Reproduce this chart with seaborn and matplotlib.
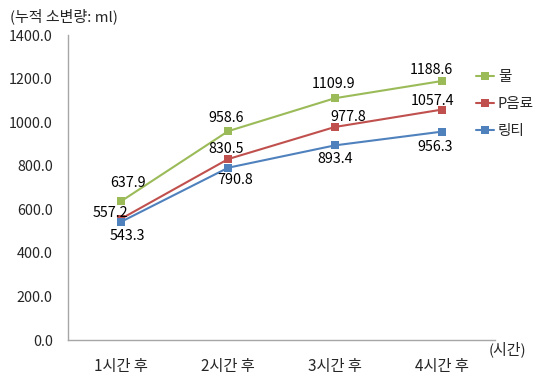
import numpy as np
import pandas as pd
import matplotlib.pyplot as plt
import seaborn as sns

times = ["1시간 후", "2시간 후", "3시간 후", "4시간 후"]
water = [637.9, 958.6, 1109.9, 1188.6]
p_drink = [557.2, 830.5, 977.8, 1057.4]
ringti = [543.3, 790.8, 893.4, 956.3]
series_names = ["물", "P음료", "링티"]
colors = ["#9BBB59", "#C0504D", "#4F81BD"]

df = pd.DataFrame({
    "pos": list(range(len(times))) * 3,
    "value": water + p_drink + ringti,
    "series": [s for s in series_names for _ in times],
})

sns.set_style("white")
plt.rcParams["font.family"] = ["Noto Sans CJK KR", "DejaVu Sans"]

fig = plt.figure(figsize=(5.42, 3.78), dpi=100)
ax = fig.add_axes([0.1255, 0.1005, 0.7878, 0.8069])

sns.lineplot(
    data=df, x="pos", y="value", hue="series",
    palette=colors, marker="s", markersize=5.5, markeredgewidth=0,
    linewidth=1.5, dashes=False, ax=ax
)

# data labels, offsets in pixels
offsets = {
    "물": [(7, 18), (-2, 13), (-1, 14), (-10, 11)],
    "P음료": [(-11, 6), (-2, 10), (13, 10), (-9, 9)],
    "링티": [(6, -14), (7, -12), (0, -14), (-7, -15)],
}
for name, vals in zip(series_names, [water, p_drink, ringti]):
    for i, v in enumerate(vals):
        ax.annotate(f"{v:.1f}", (i, v), xytext=offsets[name][i],
                    textcoords="offset pixels", ha="center", va="center",
                    fontsize=10.3, color="black")

ax.set_xlim(-0.5, 3.5)
ax.set_ylim(0, 1400)
ax.set_yticks(np.arange(0, 1401, 200))
ax.set_yticklabels([f"{t:.1f}" for t in np.arange(0, 1401, 200)], fontsize=10.3)
ax.set_xticks(range(len(times)))
ax.set_xticklabels(times, fontsize=11)
ax.set_xticks(np.arange(-0.5, 3.6, 1), minor=True)
ax.tick_params(axis="x", which="major", length=0, pad=13)
ax.tick_params(axis="x", which="minor", length=4, color="#A6A6A6", direction="out")
ax.tick_params(axis="y", length=5, color="#A6A6A6", direction="out", pad=6)
ax.set_xlabel("")
ax.set_ylabel("")

for side in ["top", "right"]:
    ax.spines[side].set_visible(False)
for side in ["left", "bottom"]:
    ax.spines[side].set_color("#A6A6A6")
    ax.spines[side].set_linewidth(1)

fig.text(10 / 542, 1 - 16 / 378, "(누적 소변량: ml)", fontsize=10.8, ha="left", va="center")
fig.text(489 / 542, 1 - 349 / 378, "(시간)", fontsize=10.8, ha="left", va="center")

handles, labels = ax.get_legend_handles_labels()
ax.legend(handles, labels, loc="upper left", bbox_to_anchor=(476 / 542, 1 - 70 / 378),
          bbox_transform=fig.transFigure, frameon=False, fontsize=10.5,
          handlelength=1.2, handletextpad=0.3, labelspacing=0.9, borderpad=0,
          borderaxespad=0)

fig.savefig("out.png", dpi=100)
